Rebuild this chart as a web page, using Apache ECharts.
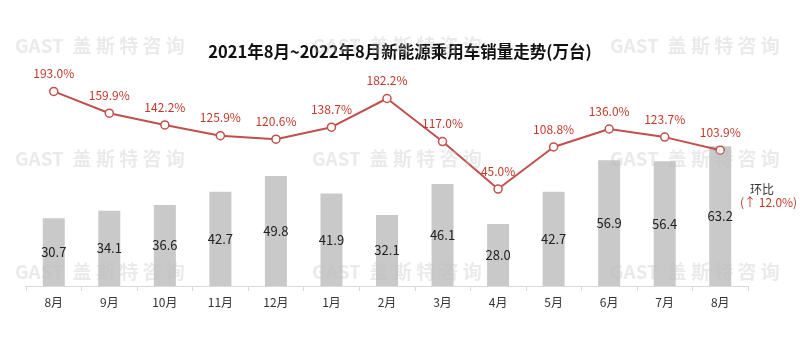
<!DOCTYPE html>
<html><head><meta charset="utf-8">
<script src="https://cdn.jsdelivr.net/npm/echarts@6/dist/echarts.min.js"></script>
<style>html,body{margin:0;padding:0;background:#fff}#c{width:800px;height:344px}</style>
</head><body><div id="c"></div>
<script>
const categories = ['8月','9月','10月','11月','12月','1月','2月','3月','4月','5月','6月','7月','8月'];
const sales = [30.7,34.1,36.6,42.7,49.8,41.9,32.1,46.1,28.0,42.7,56.9,56.4,63.2];
const growth = [193.0,159.9,142.2,125.9,120.6,138.7,182.2,117.0,45.0,108.8,136.0,123.7,103.9];
const titleText = '2021年8月~2022年8月新能源乘用车销量走势(万台)';
const wmText = 'GAST  盖 斯 特 咨 询';
const wmX = [15, 312, 610];
const wmY = [36, 149, 262];

const font = '"Noto Sans CJK SC", "Noto Sans", sans-serif';
const chart = echarts.init(document.getElementById('c'));
const graphics = [];
wmX.forEach(x => wmY.forEach(y => graphics.push({
  type: 'text', left: x, top: y, z: 100, silent: true,
  style: { text: wmText, fill: 'rgba(190,190,190,0.32)', font: 'bold 19px ' + font }
})));
graphics.push({ type: 'text', left: 750, top: 183, z: 101,
  style: { text: '环比', fill: '#333', font: '12px ' + font } });
graphics.push({ type: 'text', left: 740, top: 196, z: 101,
  style: { text: '(↑ 12.0%)', fill: '#c0392b', font: '12px ' + font } });

chart.setOption({
  animation: false,
  textStyle: { fontFamily: font },
  title: { text: titleText, left: 'center', top: 38,
    textStyle: { fontSize: 16.5, fontWeight: 'bold', color: '#111', fontFamily: font } },
  grid: { left: 26, right: 52, top: 65, bottom: 58 },
  xAxis: {
    type: 'category', data: categories,
    axisLine: { lineStyle: { color: '#d9d9d9' } },
    axisTick: { show: true, length: 5, lineStyle: { color: '#d9d9d9' } },
    axisLabel: { color: '#333', fontSize: 12, margin: 10 }
  },
  yAxis: [
    { type: 'value', min: 0, max: 100, show: false, splitLine: { show: false } },
    { type: 'value', min: -102, max: 233, show: false, splitLine: { show: false } }
  ],
  graphic: graphics,
  series: [
    { type: 'bar', data: sales, barWidth: 22, yAxisIndex: 0,
      itemStyle: { color: '#c9c9c9' },
      label: { show: true, position: 'inside', color: '#222', fontSize: 13,
        formatter: p => p.value.toFixed(1) } },
    { type: 'line', data: growth, yAxisIndex: 1, z: 5,
      lineStyle: { color: '#c0504d', width: 2 },
      symbol: 'circle', symbolSize: 8,
      itemStyle: { color: '#fff', borderColor: '#c0504d', borderWidth: 1.5 },
      label: { show: true, position: 'top', distance: 7, color: '#c0392b', fontSize: 12,
        formatter: p => p.value.toFixed(1) + '%' } }
  ]
});
</script></body></html>
